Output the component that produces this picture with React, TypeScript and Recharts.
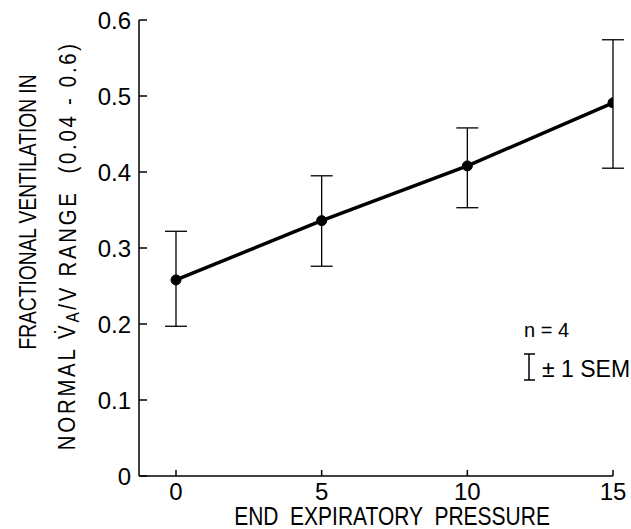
import React from 'react';
import { LineChart, Line, XAxis, YAxis, ErrorBar, Customized } from 'recharts';

// Values
const pressure = [0, 5, 10, 15];
const fraction = [0.258, 0.336, 0.408, 0.491];
const upperSem = [0.322, 0.395, 0.458, 0.574];
const lowerSem = [0.197, 0.276, 0.353, 0.405];

const yTicks = [0, 0.1, 0.2, 0.3, 0.4, 0.5, 0.6];
const xTicks = [0, 5, 10, 15];

const FONT = '"Liberation Sans", Arial, Helvetica, sans-serif';

const data = pressure.map((p, i) => ({
  pressure: p,
  fraction: fraction[i],
  sem: [fraction[i] - lowerSem[i], upperSem[i] - fraction[i]],
}));

const YTick = ({ x, y, payload }: any) => (
  <g>
    <line x1={x} x2={x + 8} y1={y} y2={y} stroke="#000" strokeWidth={1.5} />
    <text x={x - 8} y={y} textAnchor="end" dominantBaseline="central" fontSize={24} fontFamily={FONT} fill="#000">
      {payload.value === 0 ? '0' : payload.value.toFixed(1)}
    </text>
  </g>
);

const XTick = ({ x, y, payload }: any) => (
  <g>
    <line x1={x} x2={x} y1={y} y2={y - 6} stroke="#000" strokeWidth={1.5} />
    <text x={x} y={y + 15} textAnchor="middle" dominantBaseline="central" fontSize={24} fontFamily={FONT} fill="#000">
      {payload.value}
    </text>
  </g>
);

// Y label in two rotated lines, squeezed like the condensed original type
const YLabel = () => (
  <g fontFamily={FONT} fontSize={24} fill="#000">
    <text
      x={0}
      y={0}
      transform="translate(28 212) rotate(-90) scale(0.8 1)"
      textAnchor="middle"
      dominantBaseline="central"
    >
      FRACTIONAL VENTILATION IN
    </text>
    <text
      x={0}
      y={0}
      transform="translate(67 247) rotate(-90) scale(0.85 1)"
      textAnchor="middle"
      dominantBaseline="central"
      textLength={478}
      lengthAdjust="spacing"
      style={{ whiteSpace: 'pre' }}
    >
      {'NORMAL V\u0307'}
      <tspan dy={6} fontSize={18}>A</tspan>
      <tspan dy={-6}>{'/V RANGE  (0.04 - 0.6)'}</tspan>
    </text>
  </g>
);

const XLabel = () => (
  <text
    x={0}
    y={0}
    transform="translate(392 516) scale(0.84 1)"
    textAnchor="middle"
    dominantBaseline="central"
    fontFamily={FONT}
    fontSize={25}
    fill="#000"
    style={{ whiteSpace: 'pre' }}
  >
    {'END  EXPIRATORY  PRESSURE'}
  </text>
);

// "n = 4" and the SEM key at the lower right
const Key = () => (
  <g fontFamily={FONT} fill="#000">
    <text x={524} y={337} fontSize={20}>n = 4</text>
    <line x1={529} x2={529} y1={354} y2={380} stroke="#000" strokeWidth={1.5} />
    <line x1={524} x2={535} y1={354} y2={354} stroke="#000" strokeWidth={1.5} />
    <line x1={524} x2={535} y1={380} y2={380} stroke="#000" strokeWidth={1.5} />
    <text x={542} y={377} fontSize={23}>± 1 SEM</text>
  </g>
);

export default function App() {
  return (
    <div style={{ position: 'absolute', left: 0, top: 0, background: '#fff' }}>
      <LineChart
        width={631}
        height={529}
        data={data}
        margin={{ top: 20, right: 18, bottom: 23, left: 0 }}
      >
        <XAxis
          dataKey="pressure"
          type="number"
          domain={[-1.27, 15]}
          ticks={xTicks}
          allowDataOverflow
          height={30}
          tickSize={0}
          tickMargin={0}
          tickLine={false}
          axisLine={{ stroke: '#000', strokeWidth: 1.5 }}
          tick={<XTick />}
        />
        <YAxis
          type="number"
          domain={[0, 0.6]}
          ticks={yTicks}
          width={139}
          tickSize={0}
          tickMargin={0}
          tickLine={false}
          axisLine={{ stroke: '#000', strokeWidth: 1.5 }}
          tick={<YTick />}
        />
        <Line
          dataKey="fraction"
          stroke="#000"
          strokeWidth={3.5}
          dot={{ r: 5, fill: '#000', stroke: '#000', strokeWidth: 1 }}
          isAnimationActive={false}
        >
          <ErrorBar dataKey="sem" width={11} stroke="#000" strokeWidth={1.3} direction="y" />
        </Line>
        <Customized component={YLabel} />
        <Customized component={XLabel} />
        <Customized component={Key} />
      </LineChart>
    </div>
  );
}
